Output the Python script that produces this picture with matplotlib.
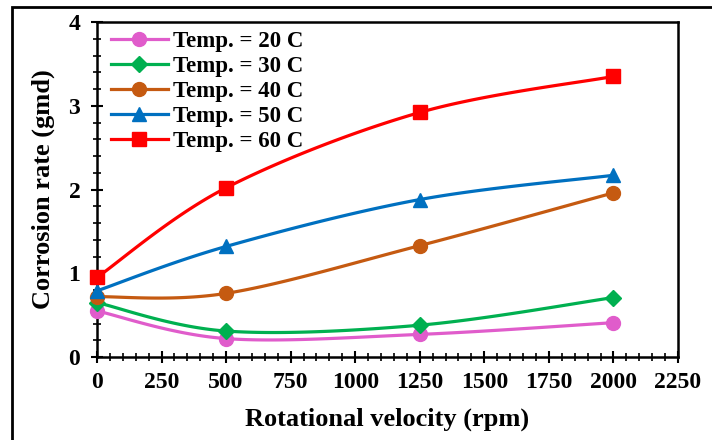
import numpy as np
import matplotlib
matplotlib.use("Agg")
import matplotlib.pyplot as plt
from matplotlib.ticker import MultipleLocator
from matplotlib.patches import Rectangle

# rotational velocity (rpm)
rpm = [0, 500, 1250, 2000]

# corrosion rate (gmd) per temperature
temp_20 = [0.55, 0.22, 0.27, 0.41]
temp_30 = [0.65, 0.31, 0.38, 0.71]
temp_40 = [0.72, 0.76, 1.33, 1.96]
temp_50 = [0.79, 1.32, 1.88, 2.17]
temp_60 = [0.95, 2.02, 2.92, 3.35]

labels = ["Temp. = 20 C", "Temp. = 30 C", "Temp. = 40 C", "Temp. = 50 C", "Temp. = 60 C"]
colors = ["#E05CCB", "#00B050", "#C55A11", "#0070C0", "#FF0000"]
markers = ["o", "D", "o", "^", "s"]
msizes = [10, 8, 10, 10, 10]


def smooth(xs, ys, n=40):
    # excel-style smoothed line (catmull-rom bezier)
    p = np.column_stack([xs, ys]).astype(float)
    p = np.vstack([p[0], p, p[-1]])
    out = []
    t = np.linspace(0, 1, n)[:, None]
    for i in range(1, len(p) - 2):
        a, b = p[i], p[i + 1]
        c1 = a + (p[i + 1] - p[i - 1]) / 6
        c2 = b - (p[i + 2] - p[i]) / 6
        seg = (1 - t) ** 3 * a + 3 * (1 - t) ** 2 * t * c1 + 3 * (1 - t) * t ** 2 * c2 + t ** 3 * b
        out.append(seg)
    out = np.vstack(out)
    return out[:, 0], out[:, 1]


plt.rcParams["font.family"] = "Liberation Serif"
plt.rcParams["font.weight"] = "bold"

fig = plt.figure(figsize=(7.12, 4.40), dpi=100)
ax = fig.add_axes([0.1362, 0.1886, 0.8160, 0.7614])

series = [temp_20, temp_30, temp_40, temp_50, temp_60]
for ys, lab, c, m, ms in zip(series, labels, colors, markers, msizes):
    sx, sy = smooth(rpm, ys)
    ax.plot(sx, sy, color=c, lw=2.3, clip_on=False)
    ax.plot(rpm, ys, linestyle="none", marker=m, color=c, ms=ms, clip_on=False, zorder=3)
    ax.plot([], [], color=c, lw=2.3, marker=m, ms=ms, label=lab)

ax.set_xlim(0, 2250)
ax.set_ylim(0, 4)
ax.xaxis.set_major_locator(MultipleLocator(250))
ax.xaxis.set_minor_locator(MultipleLocator(50))
ax.yaxis.set_major_locator(MultipleLocator(1))
ax.yaxis.set_minor_locator(MultipleLocator(0.2))
ax.tick_params(which="major", direction="inout", length=8, width=1.5, labelsize=17)
ax.tick_params(axis="x", which="major", pad=7)
ax.tick_params(axis="y", which="major", pad=8)
ax.tick_params(which="minor", direction="inout", length=6, width=1.2)
for s in ax.spines.values():
    s.set_linewidth(1.8)

ax.set_xlabel("Rotational velocity (rpm)", fontsize=19, fontweight="bold", labelpad=10)
ax.set_ylabel("Corrosion rate (gmd)", fontsize=19, fontweight="bold", labelpad=10)

leg = ax.legend(loc="upper left", frameon=False, fontsize=16.5, handlelength=2.5,
                borderaxespad=0.2, labelspacing=0.17, handletextpad=0.2, borderpad=0.2)
leg.set_bbox_to_anchor((0.008, 1.0), transform=ax.transAxes)

fig.patches.append(Rectangle((12 / 712, -0.1), 1.2, 1 - 7 / 440 + 0.1, transform=fig.transFigure,
                             fill=False, edgecolor="black", lw=2))

fig.savefig("out.png", dpi=100)
